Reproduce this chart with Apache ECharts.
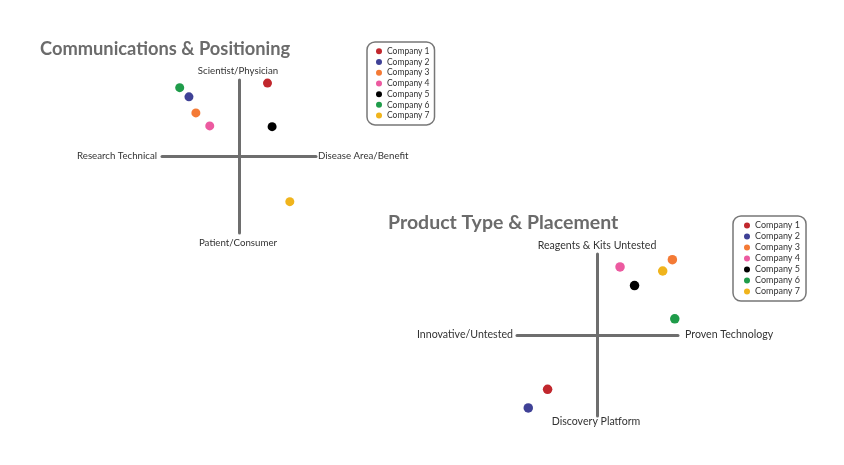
<!DOCTYPE html>
<html>
<head>
<meta charset="utf-8">
<script src="https://cdn.jsdelivr.net/npm/echarts@6/dist/echarts.min.js"></script>
<style>
html,body{margin:0;padding:0;background:#fff;}
#c{width:844px;height:465px;}
</style>
</head>
<body>
<div id="c"></div>
<script>
var companies = ['Company 1','Company 2','Company 3','Company 4','Company 5','Company 6','Company 7'];
var colors = ['#c1272d','#3f4196','#f47a35','#ec5aa0','#000000','#1f9c4a','#f0b41c'];
// Communications & Positioning: [x (Research Technical -> Disease Area/Benefit), y (Patient/Consumer -> Scientist/Physician)]
var commX = [3.7, -6.5, -5.6, -3.8, 4.3, -7.7, 6.6];
var commY = [9.6, 7.8, 5.7, 4.0, 3.9, 9.0, -5.9];
// Product Type & Placement: [x (Innovative/Untested -> Proven Technology), y (Discovery Platform -> Reagents & Kits Untested)]
var prodX = [-6.2, -8.6, 9.3, 2.8, 4.6, 9.6, 8.1];
var prodY = [-6.7, -9.0, 9.3, 8.4, 6.1, 2.0, 7.9];

var titles = ['Communications & Positioning','Product Type & Placement'];
var commLabels = {top:'Scientist/Physician', bottom:'Patient/Consumer', left:'Research Technical', right:'Disease Area/Benefit'};
var prodLabels = {top:'Reagents & Kits Untested', bottom:'Discovery Platform', left:'Innovative/Untested', right:'Proven Technology'};

var FONT = 'Lato';
var chart = echarts.init(document.getElementById('c'), null, {renderer:'canvas'});

function axisCommon(gi){
  return {
    type:'value', min:-10, max:10, gridIndex:gi,
    axisLine:{show:true, onZero:true, lineStyle:{color:'#6e6e6e', width:3}},
    axisTick:{show:false}, axisLabel:{show:false}, splitLine:{show:false}
  };
}

var series = [];
companies.forEach(function(n,i){
  series.push({name:n, type:'scatter', xAxisIndex:0, yAxisIndex:0, symbolSize:9,
    itemStyle:{color:colors[i], opacity:1}, data:[[commX[i], commY[i]]]});
});
companies.forEach(function(n,i){
  series.push({name:n, type:'scatter', xAxisIndex:1, yAxisIndex:1, symbolSize:9.5,
    itemStyle:{color:colors[i], opacity:1}, data:[[prodX[i], prodY[i]]]});
});

function legend(left, top, fs, lh, pad){
  return {
    data: companies.map(function(n,i){return {name:n, itemStyle:{color:colors[i], opacity:1}};}),
    orient:'vertical', left:left, top:top, icon:'circle', itemWidth:6, itemHeight:6,
    itemGap:0, padding:pad, borderColor:'#777', borderWidth:1.5, borderRadius:8,
    selectedMode:false,
    textStyle:{fontFamily:FONT, fontSize:fs, lineHeight:lh, color:'#333', padding:[0,0,0,0]}
  };
}

function txt(x,y,s,size,align,weight,color){
  return {type:'text', x:x, y:y, style:{text:s, fontFamily:FONT, fontSize:size,
    fontWeight:weight||'normal', fill:color||'#333', align:align, verticalAlign:'middle'}};
}

chart.setOption({
  animation:false,
  grid:[{left:162, top:80, width:154, height:153},{left:517, top:254, width:161, height:162}],
  xAxis:[axisCommon(0), axisCommon(1)],
  yAxis:[axisCommon(0), axisCommon(1)],
  legend:[legend(367, 42, 8.5, 10.7, [4,5,4,9]), legend(733, 216, 9, 11, [4,6,4,11])],
  graphic:[
    txt(40, 49, titles[0], 18.3, 'left', 'bold', '#6b6b6b'),
    txt(388, 223, titles[1], 19.5, 'left', 'bold', '#6b6b6b'),
    txt(238, 71, commLabels.top, 9.7, 'center'),
    txt(238, 243, commLabels.bottom, 9.7, 'center'),
    txt(157, 156, commLabels.left, 9.7, 'right'),
    txt(318, 156, commLabels.right, 9.7, 'left'),
    txt(597, 246, prodLabels.top, 10.6, 'center'),
    txt(596, 422, prodLabels.bottom, 10.6, 'center'),
    txt(513, 335, prodLabels.left, 10.6, 'right'),
    txt(685, 335, prodLabels.right, 10.6, 'left')
  ],
  series:series
});
</script>
</body>
</html>
